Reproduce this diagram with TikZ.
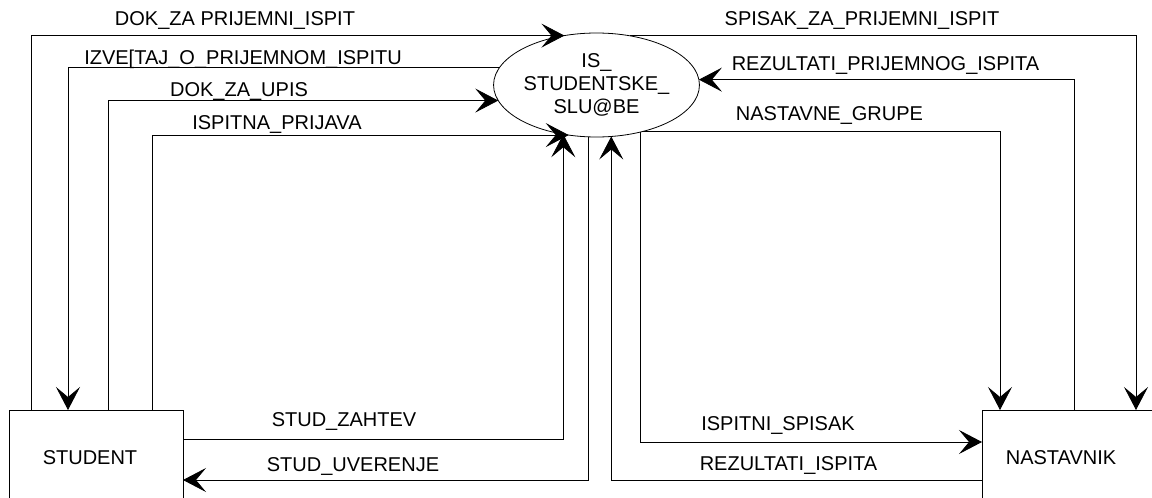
\documentclass[tikz,border=0pt]{standalone}
\usepackage{fontspec}
\setmainfont{Liberation Sans}
\usetikzlibrary{shapes.geometric,arrows.meta}
\begin{document}
\begin{tikzpicture}[x=1pt,y=-1pt,
  every node/.style={font=\fontsize{20}{23}\selectfont},
  lbl/.style={anchor=base,inner sep=0pt},
  ent/.style={draw,line width=0.9pt,rectangle,minimum width=174pt,minimum height=100pt,inner sep=0pt,outer sep=0pt},
  proc/.style={draw,line width=0.8pt,ellipse,minimum width=195pt,minimum height=104pt,inner sep=0pt,outer sep=0pt,align=center},
  flow/.style={draw,line width=0.8pt,-{Stealth[length=23pt,width=24pt,inset=10pt]}},
  plain/.style={draw,line width=0.8pt}]
\clip (0,0) rectangle (1152,498);
\fill[white] (0,0) rectangle (1152,498);
% nodes
\node[proc] (is) at (596.5,85) {IS\_\\STUDENTSKE\_\\SLU@BE};
\node[ent] (student) at (96,460) {\raisebox{5pt}{STUDENT\hspace*{12pt}}};
\node[ent] (nast) at (1069,460) {\raisebox{5pt}{NASTAVNIK\hspace*{16pt}}};
% helper coordinates
\coordinate (xa) at (31.7,0);
\coordinate (xb) at (68,0);
\coordinate (xc) at (108,0);
\coordinate (xd) at (152,0);
\coordinate (xe) at (1000,0);
\coordinate (xf) at (1074,0);
\coordinate (xg) at (1136,0);
\coordinate (ya) at (0,439);
\coordinate (yb) at (0,480);
\coordinate (yc) at (0,442);
% connectors left
\path[flow] (student.north -| xa) |- (is.123.6);
\path[flow] (is.170.2) -| (student.north -| xb);
\path[flow] (student.north -| xc) |- (is.189.8);
\path[flow] (student.north -| xd) |- (is.241.8);
\path[flow] (student.east |- ya) -| (is.236.4);
\path[flow] (is.261.8) |- (student.east |- yb);
% connectors right
\path[flow] (nast.west |- yb) -| (is.286.5);
\path[flow] (is.313.1) |- (nast.west |- yc);
\path[flow] (is.314.7) -| (nast.north -| xe);
\path[flow] (is.56.4) -| (nast.north -| xg);
\path[flow] (nast.north -| xf) |- (is.3.5);
% labels
\node[lbl] (l1) at (235,25) {DOK\_ZA PRIJEMNI\_ISPIT};
\node[lbl] (l2) at (243,64) {IZVE[TAJ\_O\_PRIJEMNOM\_ISPITU};
\node[lbl] (l3) at (239,96) {DOK\_ZA\_UPIS};
\node[lbl] (l4) at (277,129) {ISPITNA\_PRIJAVA};
\node[lbl] (r1) at (862,25) {SPISAK\_ZA\_PRIJEMNI\_ISPIT};
\node[lbl] (r2) at (885.5,70) {REZULTATI\_PRIJEMNOG\_ISPITA};
\node[lbl] (r3) at (829.5,120) {NASTAVNE\_GRUPE};
\node[lbl] (b1) at (344,426) {STUD\_ZAHTEV};
\node[lbl] (b2) at (353,471) {STUD\_UVERENJE};
\node[lbl] (b3) at (778,430) {ISPITNI\_SPISAK};
\node[lbl] (b4) at (788.5,470) {REZULTATI\_ISPITA};
\end{tikzpicture}
\end{document}
